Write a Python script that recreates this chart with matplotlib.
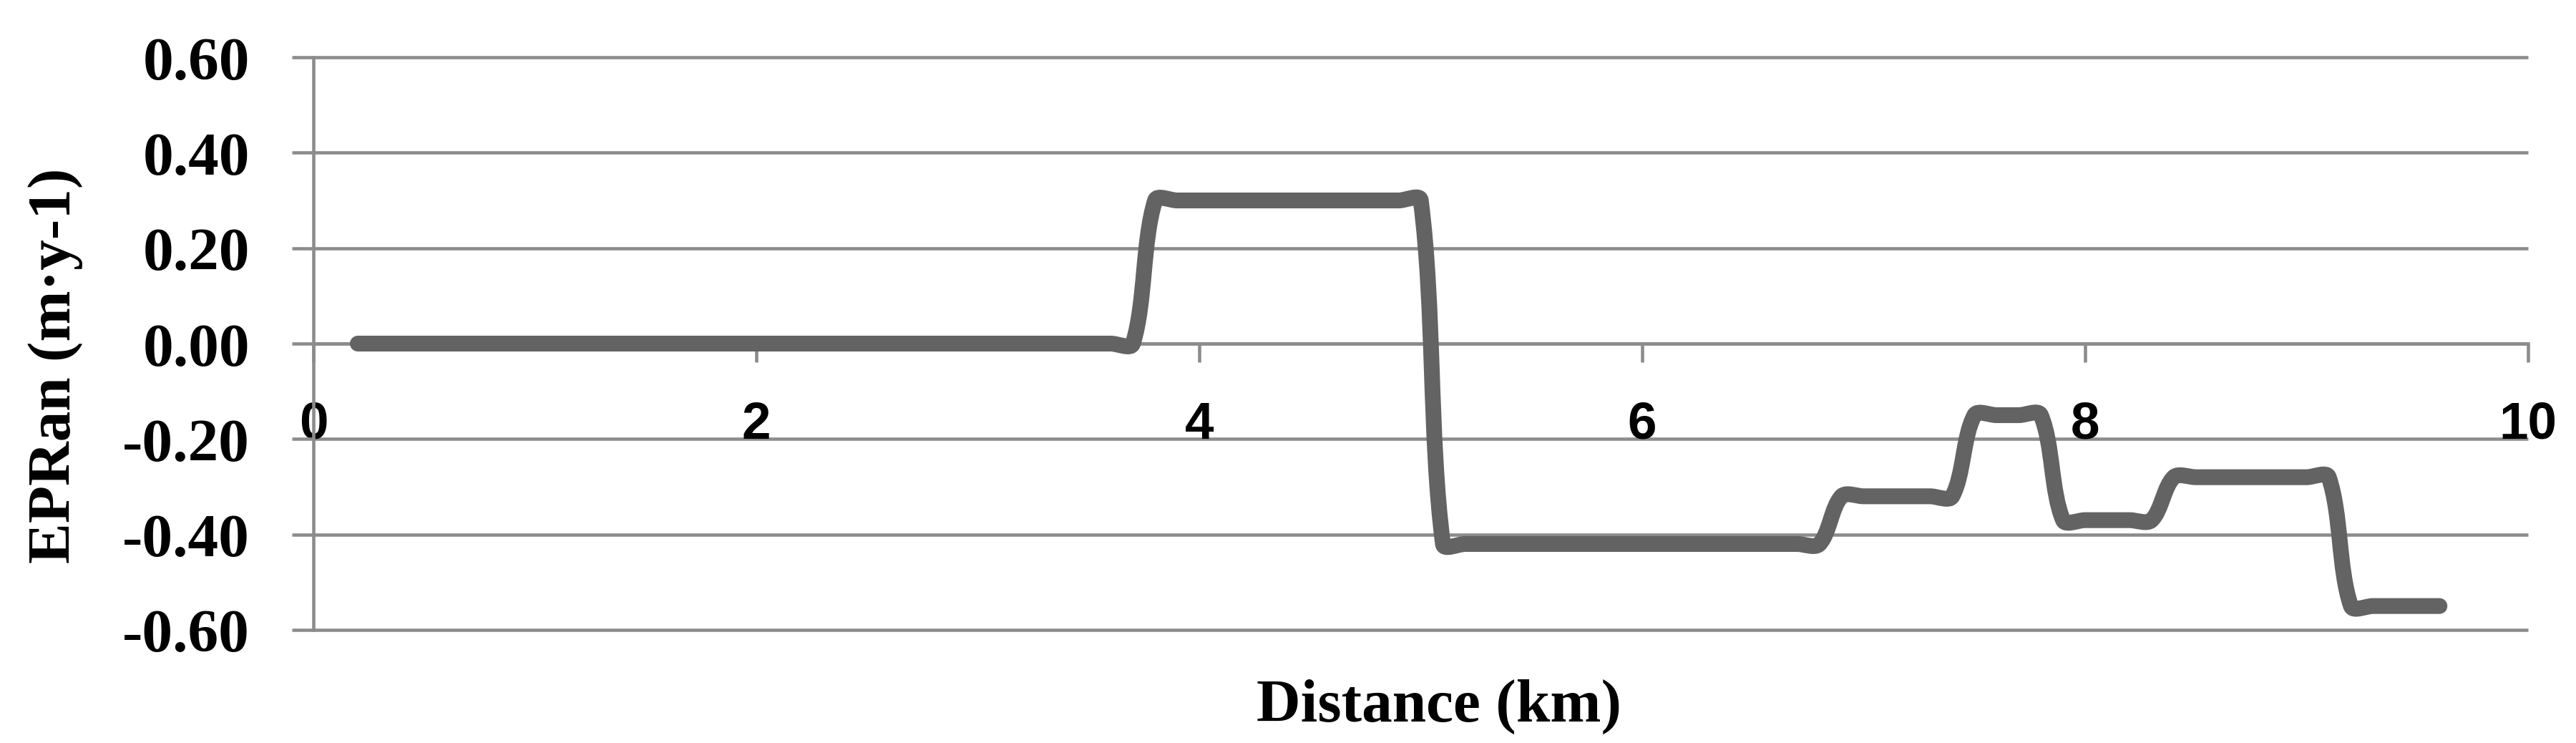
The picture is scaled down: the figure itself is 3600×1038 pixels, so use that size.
import matplotlib
matplotlib.use('Agg')
import matplotlib.pyplot as plt
import numpy as np
from matplotlib.path import Path
from matplotlib.patches import PathPatch

# data (km, m/y)
distance_km = [0.2, 0.3, 0.4, 0.5, 0.6, 0.7, 0.8, 0.9,
               1.0, 1.1, 1.2, 1.3, 1.4, 1.5, 1.6, 1.7, 1.8, 1.9,
               2.0, 2.1, 2.2, 2.3, 2.4, 2.5, 2.6, 2.7, 2.8, 2.9,
               3.0, 3.1, 3.2, 3.3, 3.4, 3.5, 3.6, 3.7, 3.8, 3.9,
               4.0, 4.1, 4.2, 4.3, 4.4, 4.5, 4.6, 4.7, 4.8, 4.9,
               5.0, 5.1, 5.2, 5.3, 5.4, 5.5, 5.6, 5.7, 5.8, 5.9,
               6.0, 6.1, 6.2, 6.3, 6.4, 6.5, 6.6, 6.7, 6.8, 6.9,
               7.0, 7.1, 7.2, 7.3, 7.4, 7.5, 7.6, 7.7, 7.8, 7.9,
               8.0, 8.1, 8.2, 8.3, 8.4, 8.5, 8.6, 8.7, 8.8, 8.9,
               9.0, 9.1, 9.2, 9.3, 9.4, 9.5, 9.6]
epran = [0.00, 0.00, 0.00, 0.00, 0.00, 0.00, 0.00, 0.00,
         0.00, 0.00, 0.00, 0.00, 0.00, 0.00, 0.00, 0.00, 0.00, 0.00,
         0.00, 0.00, 0.00, 0.00, 0.00, 0.00, 0.00, 0.00, 0.00, 0.00,
         0.00, 0.00, 0.00, 0.00, 0.00, 0.00, 0.00, 0.00, 0.30, 0.30,
         0.30, 0.30, 0.30, 0.30, 0.30, 0.30, 0.30, 0.30, 0.30, 0.30,
         0.30, -0.42, -0.42, -0.42, -0.42, -0.42, -0.42, -0.42, -0.42, -0.42,
         -0.42, -0.42, -0.42, -0.42, -0.42, -0.42, -0.42, -0.42, -0.42, -0.32,
         -0.32, -0.32, -0.32, -0.32, -0.32, -0.15, -0.15, -0.15, -0.15, -0.37,
         -0.37, -0.37, -0.37, -0.37, -0.28, -0.28, -0.28, -0.28, -0.28, -0.28,
         -0.28, -0.28, -0.55, -0.55, -0.55, -0.55, -0.55]

x_ticks = [0, 2, 4, 6, 8, 10]
x_tick_labels = ['0', '2', '4', '6', '8', '10']
y_ticks = [-0.6, -0.4, -0.2, 0.0, 0.2, 0.4, 0.6]
y_tick_labels = ['-0.60', '-0.40', '-0.20', '0.00', '0.20', '0.40', '0.60']

GRID = '#8c8c8c'
LINE = '#636363'
SERIF = ['Liberation Serif', 'DejaVu Serif']
SANS = ['Liberation Sans', 'DejaVu Sans']

fig = plt.figure(figsize=(12, 3.4633), dpi=300)
ax = fig.add_axes([0.1217, 0.1521, 0.8597, 0.7699])
ax.set_xlim(0, 10)
ax.set_ylim(-0.6, 0.6)

# horizontal gridlines (incl. top/bottom edges)
ax.hlines(y_ticks, 0, 10, colors=GRID, lw=1.1, zorder=1, clip_on=False)

for s in ['top', 'right']:
    ax.spines[s].set_visible(False)
ax.spines['left'].set_color(GRID)
ax.spines['left'].set_linewidth(1.1)
ax.spines['bottom'].set_position(('data', 0))
ax.spines['bottom'].set_color(GRID)
ax.spines['bottom'].set_linewidth(1.1)

ax.set_xticks(x_ticks, labels=x_tick_labels, family=SANS, fontweight='bold', fontsize=17.5)
ax.set_yticks(y_ticks, labels=y_tick_labels, family=SERIF, fontweight='bold', fontsize=20.5)
ax.tick_params(axis='x', direction='out', length=6.2, width=1.1, color=GRID, pad=12.7)
ax.tick_params(axis='y', direction='out', length=7.2, width=1.1, color=GRID, pad=14.2)

# smoothed line (Excel-style bezier through the data points)
pts = ax.transData.transform(np.column_stack([distance_km, epran]))
n = len(pts)
seg = np.hypot(*np.diff(pts, axis=0).T)
verts = [pts[0]]
for i in range(n - 1):
    p0, p1 = pts[i], pts[i + 1]
    if i == 0:
        c1 = p0 + (p1 - p0) / 3
    else:
        c1 = p0 + (pts[i + 1] - pts[i - 1]) * seg[i] / (seg[i - 1] + seg[i]) / 3
    if i + 1 == n - 1:
        c2 = p1 - (p1 - p0) / 3
    else:
        c2 = p1 - (pts[i + 2] - pts[i]) * seg[i] / (seg[i] + seg[i + 1]) / 3
    verts += [c1, c2, p1]
verts = ax.transData.inverted().transform(np.array(verts))
codes = [Path.MOVETO] + [Path.CURVE4] * (3 * (n - 1))
ax.add_patch(PathPatch(Path(verts, codes), facecolor='none', edgecolor=LINE, lw=5.3,
                       capstyle='round', joinstyle='round', zorder=3, clip_on=False))

fig.text(0.5586, 0.0298, 'Distance (km)', ha='center', va='baseline',
         family=SERIF, fontweight='bold', fontsize=20.5)
fig.text(0.0322, 0.508, 'EPRan (m\u00b7y-1)', ha='right', va='center', rotation=90,
         family=SERIF, fontweight='bold', fontsize=20.5)

fig.savefig('out.png', dpi=300, facecolor='white')
